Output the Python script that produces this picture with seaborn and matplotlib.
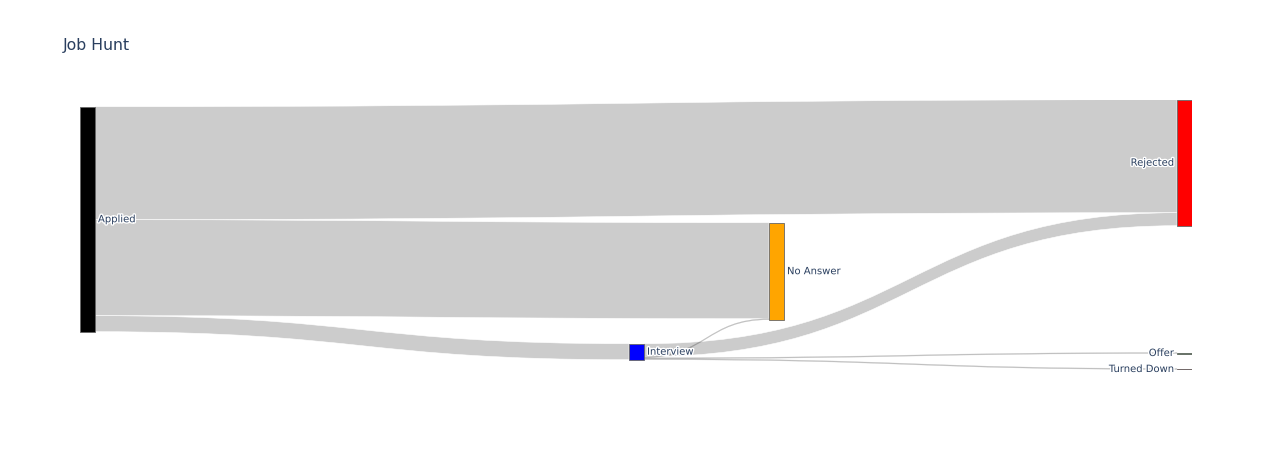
import numpy as np
import matplotlib.pyplot as plt
import seaborn as sns
from matplotlib.path import Path
from matplotlib.patches import PathPatch, Rectangle
import matplotlib.patheffects as pe

# Datos del embudo
nodos = ["Applied", "Interview", "No Answer", "Rejected", "Offer", "Turned Down"]
colores_nodos = ["black", "blue", "orange", "red", "green", "maroon"]
origen = ["Applied", "Applied", "Applied", "Interview", "Interview", "Interview", "Interview"]
destino = ["Rejected", "No Answer", "Interview", "Rejected", "No Answer", "Offer", "Turned Down"]
valores = [113, 96, 16, 13, 1, 1, 1]

# Posicion de los nodos dentro del area (pixeles del area de dibujo)
nodo_x = {"Applied": 0, "Interview": 549, "No Answer": 689,
          "Rejected": 1097, "Offer": 1097, "Turned Down": 1097}
nodo_y = {"Applied": 6.7, "Interview": 243.7, "No Answer": 122.7,
          "Rejected": -0.3, "Offer": 252.5, "Turned Down": 268.5}
ancho_nodo = 15
escala = 1.0

sns.set_theme(style="white")
plt.rcParams["font.family"] = ["DejaVu Sans"]

W, H = 1272, 450
fig = plt.figure(figsize=(W / 100, H / 100), dpi=100)
ax = fig.add_axes([80 / W, 80 / H, 1112 / W, 270 / H])
ax.set_xlim(0, 1112)
ax.set_ylim(270, 0)
ax.axis("off")

# Alturas de los nodos
entrada = {n: 0 for n in nodos}
salida = {n: 0 for n in nodos}
for o, d, v in zip(origen, destino, valores):
    salida[o] += v
    entrada[d] += v
altura = {n: max(entrada[n], salida[n]) * escala for n in nodos}

# Orden de enlaces como en d3-sankey
enlaces = list(zip(origen, destino, valores))
off_sal = {n: nodo_y[n] for n in nodos}
off_ent = {n: nodo_y[n] for n in nodos}
pos_sal = {}
for n in nodos:
    sal = sorted([e for e in enlaces if e[0] == n], key=lambda e: nodo_y[e[1]])
    for e in sal:
        pos_sal[e] = off_sal[n]
        off_sal[n] += e[2] * escala
pos_ent = {}
for n in nodos:
    ent = sorted([e for e in enlaces if e[1] == n], key=lambda e: nodo_y[e[0]])
    for e in ent:
        pos_ent[e] = off_ent[n]
        off_ent[n] += e[2] * escala

for e in enlaces:
    o, d, v = e
    x0 = nodo_x[o] + ancho_nodo
    x1 = nodo_x[d]
    xm = (x0 + x1) / 2
    s0 = pos_sal[e]
    t0 = pos_ent[e]
    h = v * escala
    verts = [(x0, s0), (xm, s0), (xm, t0), (x1, t0),
             (x1, t0 + h), (xm, t0 + h), (xm, s0 + h), (x0, s0 + h), (x0, s0)]
    codes = [Path.MOVETO, Path.CURVE4, Path.CURVE4, Path.CURVE4,
             Path.LINETO, Path.CURVE4, Path.CURVE4, Path.CURVE4, Path.CLOSEPOLY]
    if v > 5:
        borde, grosor = "white", 0.4
    else:
        borde, grosor = (0, 0, 0, 0.15), 0.3
    ax.add_patch(PathPatch(Path(verts, codes), facecolor=(0, 0, 0, 0.2),
                           edgecolor=borde, linewidth=grosor, zorder=1))

# Nodos y etiquetas
halo = [pe.withStroke(linewidth=2, foreground="white")]
for n, c in zip(nodos, colores_nodos):
    ax.add_patch(Rectangle((nodo_x[n], nodo_y[n]), ancho_nodo, altura[n],
                           facecolor=c, edgecolor="#666666", linewidth=0.6, zorder=2))
    yc = nodo_y[n] + altura[n] / 2
    if nodo_x[n] < 1000:
        ax.text(nodo_x[n] + ancho_nodo + 3, yc, n, ha="left", va="center",
                fontsize=7.2, color="#2a3f5f", path_effects=halo, zorder=3)
    else:
        ax.text(nodo_x[n] - 3, yc, n, ha="right", va="center",
                fontsize=7.2, color="#2a3f5f", path_effects=halo, zorder=3)

fig.text(63 / W, 1 - 45.5 / H, "Job Hunt", ha="left", va="center",
         fontsize=11.3, color="#2a3f5f")

fig.savefig("out.png", dpi=100, facecolor="white")
